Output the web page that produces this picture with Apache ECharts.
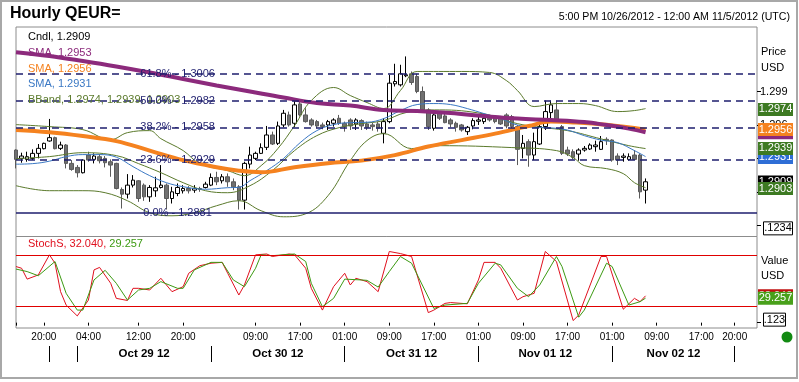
<!DOCTYPE html>
<html><head><meta charset="utf-8">
<script src="https://cdn.jsdelivr.net/npm/echarts@6/dist/echarts.min.js"></script>
<style>html,body{margin:0;padding:0;background:#fff;}#c{width:799px;height:382px;}</style>
</head><body><div id="c"></div>
<script>
// ---------- data ----------
const NSLOTS = 134;
const slots = Array.from({length: NSLOTS}, (_, i) => String(i));
// [open, close, low, high]
const candles = [
[1.29376,1.29292,1.29211,1.29382],[1.29301,1.29322,1.29262,1.29352],[1.29292,1.29316,1.29271,1.29361],[1.29301,1.29346,1.29286,1.29382],
[1.29346,1.29391,1.29301,1.2943],[1.29388,1.29436,1.29382,1.29442],[1.29457,1.29487,1.29451,1.29655],[1.29487,1.29388,1.29382,1.29496],
[1.29391,1.29421,1.29376,1.29451],[1.29421,1.29256,1.29211,1.2943],[1.29256,1.29202,1.2919,1.29286],[1.2922,1.29172,1.2913,1.29241],
[1.29172,1.29286,1.29166,1.29292],[1.29331,1.29286,1.29271,1.29361],[1.29292,1.29322,1.29256,1.29346],[1.29316,1.2928,1.29256,1.2934],
[1.29301,1.29262,1.2922,1.29322],[1.29271,1.29241,1.29136,1.29292],[1.29256,1.29031,1.29022,1.29262],[1.29022,1.2898,1.28851,1.2904],
[1.2898,1.29061,1.28941,1.2916],[1.29061,1.29106,1.2904,1.29151],[1.291,1.28941,1.28911,1.29106],[1.29061,1.28956,1.2892,1.29076],
[1.28956,1.2904,1.28911,1.29061],[1.2901,1.29037,1.28956,1.29136],[1.2904,1.29061,1.29031,1.29241],[1.29061,1.28941,1.28842,1.29076],
[1.28941,1.29001,1.28896,1.29046],[1.28986,1.2904,1.28962,1.29076],[1.2901,1.29031,1.28986,1.29061],[1.29031,1.2901,1.28986,1.29052],
[1.29016,1.29031,1.28992,1.29061],[1.29031,1.29022,1.29001,1.29046],[1.2904,1.2907,1.29031,1.29091],[1.29061,1.2913,1.29052,1.29166],
[1.2913,1.29091,1.29061,1.29181],[1.291,1.29136,1.29076,1.2916],[1.29136,1.29091,1.29046,1.29166],[1.29091,1.29046,1.29016,1.29121],
[1.29046,1.28926,1.28842,1.29061],[1.28926,1.29256,1.28842,1.29271],[1.2925,1.29331,1.29211,1.29406],[1.29301,1.29346,1.29286,1.29361],
[1.29346,1.29397,1.2934,1.29436],[1.294,1.29511,1.29376,1.29592],[1.29511,1.2943,1.29421,1.29541],[1.29436,1.29592,1.29421,1.29631],
[1.29601,1.29706,1.2958,1.29736],[1.29691,1.29601,1.29586,1.29721],[1.29616,1.29781,1.2958,1.29826],[1.2979,1.29691,1.29676,1.29826],
[1.29691,1.29631,1.29622,1.29751],[1.29646,1.29601,1.29586,1.29661],[1.29631,1.29592,1.29571,1.29646],[1.29601,1.29586,1.29562,1.29622],
[1.29601,1.29631,1.29556,1.29646],[1.29616,1.29646,1.29586,1.29661],[1.29661,1.29616,1.29601,1.29691],[1.29616,1.29586,1.29541,1.29631],
[1.29646,1.29592,1.29556,1.29661],[1.2961,1.29646,1.29556,1.29661],[1.2964,1.29592,1.29556,1.29652],[1.2961,1.2958,1.29556,1.29631],
[1.29601,1.29586,1.2955,1.29622],[1.2961,1.29571,1.29541,1.29631],[1.29526,1.29631,1.29436,1.29661],[1.29631,1.29976,1.29616,1.30051],
[1.2997,1.29991,1.29946,1.3015],[1.29961,1.3006,1.29946,1.30141],[1.30042,1.30051,1.3003,1.30216],[1.3006,1.29982,1.29961,1.30081],
[1.30036,1.29901,1.29886,1.3006],[1.29901,1.29736,1.29721,1.29946],[1.29736,1.29586,1.29556,1.29751],[1.29571,1.29691,1.2955,1.29706],
[1.29706,1.29661,1.29646,1.29721],[1.29682,1.29622,1.29616,1.297],[1.29646,1.2961,1.2958,1.29661],[1.29616,1.2958,1.29541,1.29631],
[1.29601,1.29556,1.29541,1.2961],[1.29541,1.2958,1.29511,1.29592],[1.29592,1.2964,1.29562,1.29661],[1.29634,1.29646,1.29601,1.29682],
[1.29631,1.29661,1.2961,1.29691],[1.29661,1.29646,1.29631,1.29691],[1.29661,1.29631,1.29616,1.29676],[1.29661,1.2961,1.29601,1.29682],
[1.29691,1.29592,1.29571,1.29706],[1.29676,1.29586,1.29541,1.29691],[1.29586,1.29382,1.29241,1.29601],[1.29391,1.29436,1.29301,1.29511],
[1.29451,1.29331,1.29226,1.29472],[1.29331,1.29451,1.29286,1.29532],[1.2943,1.29586,1.29421,1.29601],[1.29586,1.29721,1.29556,1.2982],
[1.29712,1.29781,1.29661,1.2982],[1.29736,1.29646,1.29631,1.2982],[1.29586,1.29346,1.29331,1.29601],[1.29376,1.2934,1.29322,1.29406],
[1.29361,1.2931,1.29292,1.29382],[1.2934,1.29376,1.2928,1.29391],[1.29376,1.29391,1.29361,1.29412],[1.29385,1.29421,1.29376,1.29436],
[1.29406,1.29421,1.29361,1.2946],[1.29382,1.29451,1.29376,1.29502],[1.29472,1.2946,1.29421,1.2949],[1.29466,1.29286,1.29271,1.29472],
[1.29322,1.29286,1.29241,1.29346],[1.2931,1.29322,1.29271,1.29346],[1.29292,1.29316,1.2928,1.29346],[1.29331,1.29292,1.29286,1.29376],
[1.29331,1.29001,1.28941,1.29346],[1.29016,1.29091,1.28896,1.29121]
];
const smaPurple = [[0,1.30254],[6,1.3022],[12,1.30175],[18,1.30126],[24,1.30072],[30,1.30013],[36,1.29955],[42,1.29901],[48,1.29847],[54,1.29798],[60,1.29775],[66,1.29735],[72,1.29726],[78,1.29708],[84,1.29681],[90,1.29658],[96,1.29645],[102,1.29627],[106,1.296],[110,1.29568],[113,1.29535]];
const smaOrange = [[0,1.29555],[6,1.29535],[12,1.29501],[18,1.29456],[24,1.29371],[30,1.29285],[36,1.29222],[40,1.29191],[44,1.29177],[50,1.29222],[56,1.29258],[62,1.29281],[68,1.2933],[74,1.29407],[80,1.29465],[86,1.29523],[92,1.29591],[96,1.29631],[100,1.29624],[106,1.29602],[113,1.29559]];
const smaBlue = [[0,1.29249],[3,1.29254],[6,1.29276],[9,1.29317],[12,1.29335],[15,1.29335],[18,1.29312],[21,1.29227],[24,1.29146],[27,1.29083],[30,1.29047],[34,1.29024],[38,1.29038],[40,1.29041],[42,1.29101],[45,1.29191],[48,1.29299],[51,1.29442],[54,1.2955],[57,1.29604],[60,1.29622],[63,1.29625],[66,1.29658],[69,1.2973],[72,1.29784],[75,1.29793],[78,1.29784],[81,1.29748],[84,1.29703],[87,1.29658],[90,1.296],[93,1.2958],[96,1.29575],[99,1.29555],[102,1.29505],[105,1.29465],[108,1.29442],[111,1.29371],[113,1.29317]];
const bbUpper = [[0,1.29604],[6,1.29586],[12,1.29559],[17,1.29469],[20,1.29532],[24,1.2955],[26,1.29478],[30,1.29371],[33,1.29254],[38,1.29191],[41,1.29146],[44,1.29236],[47,1.29389],[50,1.29595],[53,1.2982],[57,1.29937],[60,1.29865],[63,1.29802],[66,1.29748],[69,1.2991],[72,1.30081],[80,1.30081],[85,1.30072],[88,1.3],[90,1.2991],[93,1.29766],[97,1.29793],[101,1.29793],[104,1.29775],[108,1.29721],[111,1.2973],[113,1.29748]];
const bbMiddle = [[0,1.29299],[6,1.29317],[12,1.29352],[18,1.29326],[22,1.29254],[26,1.29173],[30,1.29083],[34,1.29011],[38,1.28993],[42,1.29056],[46,1.29191],[50,1.29371],[54,1.29505],[58,1.29577],[62,1.29613],[66,1.2964],[70,1.29712],[76,1.29736],[84,1.297],[89,1.29625],[93,1.29586],[99,1.2955],[105,1.29476],[110,1.29415],[113,1.29389]];
const bbLower = [[0,1.29056],[6,1.29011],[12,1.29011],[16,1.28993],[20,1.28921],[24,1.28813],[28,1.28786],[32,1.28813],[36,1.28876],[40,1.28921],[44,1.28831],[48,1.28777],[52,1.28804],[56,1.28966],[60,1.29281],[63,1.29461],[66,1.29523],[71,1.29389],[76,1.29415],[89,1.29398],[97,1.29371],[100,1.29308],[102,1.29236],[106,1.29209],[109,1.29164],[111,1.29083],[113,1.29038]];
const stochK = [[0,67],[1,65],[2,52],[4,57],[6,81],[7,71],[8,37],[9,21],[11,8],[13,27],[14,63],[15,66],[17,47],[18,29],[20,26.5],[21,41],[22,41],[24,39],[26,53],[28,37],[30,43],[31,59],[33,68],[35,71],[37,72],[38,59],[40,33],[41,45],[43,81],[45,82],[46,79],[49,82],[50,81],[52,65],[53,41],[55,15],[57,43],[59,59],[60,45],[61,53],[63,49],[65,37],[67,85],[69,82.5],[71,79],[74,12],[75,15],[77,23],[78,24],[81,22.5],[83,51],[84,72],[86,72],[87,65],[90,27],[91,31],[93,35],[95,85],[97,73],[100,2.5],[101,9],[105,79],[106,79],[109,16],[111,29],[112,25],[113,32.04]];
const stochD = [[0,64],[2,61],[4,56],[7,73],[9,35],[11,15],[12,15],[14,51],[16,62.5],[18,47],[20,27],[22,39],[24,41],[26,49],[29,41],[30,41],[32,63],[35,72],[37,72],[39,51],[41,43],[43,65],[44,81],[46,80],[50,82],[52,73],[53,47],[55,19],[57,29],[59,52],[62,51],[63,50.5],[65,42.5],[67,61],[69,79],[71,71],[75,17],[77,21],[81,23],[83,47],[86,71],[87,69],[90,41],[92,31],[94,45],[97,79],[98,67],[101,6.5],[102,15],[106,71],[107,67],[110,21],[112,25],[113,29.257]];
const fibLevels = [1.3006, 1.2982, 1.2958, 1.2929, 1.2881];
const fibNames = ['61.8%', '50.0%', '38.2%', '23.6%', '0.0%'];
const priceTickLabels = [1.290, 1.293, 1.296, 1.299];
const priceTicks = [1.287, 1.290, 1.293, 1.296, 1.299];
const stochLevels = [80, 20];
const timeTickIdx = [5,13,22,30,43,51,59,67,75,83,91,99,107,115,123,129];
const timeTickText = ['20:00','04:00','12:00','20:00','09:00','17:00','01:00','09:00','17:00','01:00','09:00','17:00','01:00','09:00','17:00','20:00'];
const daySepIdx = [6,11,35,59,83,107,129];
const dayLabelIdx = [23,47,71,95,118];
const dayLabelText = ['Oct 29 12','Oct 30 12','Oct 31 12','Nov 01 12','Nov 02 12'];
const lastValues = {cndl:1.2909, smaP:1.2953, smaO:1.2956, smaB:1.2931, bbU:1.2974, bbM:1.2939, bbL:1.2903, k:32.040, d:29.257};

// ---------- chart ----------
const FONT = 'Liberation Sans, Arial, sans-serif';
const C = {purple:'#8c2a7c', orange:'#f5821f', blue:'#3a78c4', olive:'#5b7a2c', navy:'#1e1e6e', red:'#e0101e', green:'#3c9a12'};
const chart = echarts.init(document.getElementById('c'), null, {renderer:'canvas'});
const gridL = 16, gridW = 741;
const option = {
  animation: false,
  backgroundColor: '#ffffff',
  textStyle: {fontFamily: FONT},
  grid: [
    {left: gridL, top: 27, width: gridW, height: 209.5, show: true, borderColor: '#8c8c8c', borderWidth: 1},
    {left: gridL, top: 236.5, width: gridW, height: 91.5, show: true, borderColor: '#8c8c8c', borderWidth: 1}
  ],
  xAxis: [
    {type:'category', gridIndex:0, data:slots, boundaryGap:false, axisLine:{show:false}, axisTick:{show:false}, axisLabel:{show:false}, splitLine:{show:false}},
    {type:'category', gridIndex:1, position:'bottom', data:slots, boundaryGap:false, axisLine:{show:false},
     axisTick:{show:true, length:3, interval:(i)=>timeTickIdx.includes(i)||i===0, lineStyle:{color:'#000'}},
     axisLabel:{show:true, interval:(i)=>timeTickIdx.includes(i), formatter:(v,i)=>{const k=timeTickIdx.indexOf(i);return k>=0?timeTickText[k]:'';}, fontSize:10, color:'#000', margin:4, fontFamily:FONT},
     splitLine:{show:false}},
    {type:'category', gridIndex:1, position:'bottom', data:slots, boundaryGap:false, offset:18, axisLine:{show:false},
     axisTick:{show:true, length:16, interval:(i)=>daySepIdx.includes(i), lineStyle:{color:'#000'}},
     axisLabel:{show:true, interval:(i)=>dayLabelIdx.includes(i), formatter:(v,i)=>{const k=dayLabelIdx.indexOf(i);return k>=0?dayLabelText[k]:'';}, fontSize:11.5, fontWeight:'bold', color:'#000', margin:2, fontFamily:FONT},
     splitLine:{show:false}}
  ],
  yAxis: [
    {type:'value', gridIndex:0, position:'right', min:1.2860, max:1.3048, splitLine:{show:false}, axisLine:{show:false},
     axisTick:{show:true, customValues:priceTicks, length:4, lineStyle:{color:'#000'}},
     axisLabel:{show:true, customValues:priceTickLabels, formatter:(v)=>v.toFixed(3), fontSize:11, color:'#000', margin:3, fontFamily:FONT}},
    {type:'value', gridIndex:1, position:'right', min:-6.4, max:102.9, splitLine:{show:false}, axisLine:{show:false},
     axisTick:{show:true, customValues:[0], length:4, lineStyle:{color:'#000'}},
     axisLabel:{show:false}}
  ],
  series: [
    {type:'candlestick', xAxisIndex:0, yAxisIndex:0, data:candles, barWidth:4, z:2,
     itemStyle:{color:'#ffffff', color0:'#707070', borderColor:'#000000', borderColor0:'#5a5a5a', borderWidth:1}},
    {type:'line', name:'bbU', xAxisIndex:0, yAxisIndex:0, data:bbUpper, smooth:0.4, showSymbol:false, lineStyle:{color:C.olive, width:1}, z:3},
    {type:'line', name:'bbM', xAxisIndex:0, yAxisIndex:0, data:bbMiddle, smooth:0.4, showSymbol:false, lineStyle:{color:C.olive, width:1}, z:3},
    {type:'line', name:'bbL', xAxisIndex:0, yAxisIndex:0, data:bbLower, smooth:0.4, showSymbol:false, lineStyle:{color:C.olive, width:1}, z:3},
    {type:'line', name:'smaB', xAxisIndex:0, yAxisIndex:0, data:smaBlue, smooth:0.4, showSymbol:false, lineStyle:{color:C.blue, width:1}, z:3},
    {type:'line', name:'smaO', xAxisIndex:0, yAxisIndex:0, data:smaOrange, smooth:0.4, showSymbol:false, lineStyle:{color:C.orange, width:4}, z:4},
    {type:'line', name:'smaP', xAxisIndex:0, yAxisIndex:0, data:smaPurple, smooth:0.4, showSymbol:false, lineStyle:{color:C.purple, width:4}, z:4,
     markLine:{symbol:'none', silent:true, z:6, precision:5, label:{show:false},
       data: fibLevels.map((v,k)=>({yAxis:v, lineStyle:{color:C.navy, width:1.5, type: k===fibLevels.length-1 ? 'solid' : [7,5]}}))}},
    {type:'line', name:'K', xAxisIndex:1, yAxisIndex:1, data:stochK, showSymbol:false, lineStyle:{color:C.red, width:1}, z:3,
     markLine:{symbol:'none', silent:true, precision:2, label:{show:false}, data: stochLevels.map(v=>({yAxis:v})), lineStyle:{color:'#e00000', width:1.2, type:'solid'}}},
    {type:'line', name:'D', xAxisIndex:1, yAxisIndex:1, data:stochD, showSymbol:false, lineStyle:{color:C.green, width:1}, z:3}
  ]
};
chart.setOption(option);

const py = v => chart.convertToPixel({yAxisIndex:0}, v);
const sy = v => chart.convertToPixel({yAxisIndex:1}, v);
const px = i => chart.convertToPixel({xAxisIndex:0}, i);

const g = [];
g.push({type:'rect', shape:{x:1, y:1, width:796, height:377}, style:{fill:null, stroke:'#a8a8a8', lineWidth:2}, z:0, silent:true});
g.push({type:'text', x:10, y:14, style:{text:'Hourly QEUR=', font:'bold 16px '+FONT, fill:'#000', verticalAlign:'middle'}, z:10});
g.push({type:'text', x:790, y:17, style:{text:'5:00 PM 10/26/2012 - 12:00 AM 11/5/2012 (UTC)', font:'10.6px '+FONT, fill:'#000', align:'right', verticalAlign:'middle'}, z:10});
const leg = [
  ['Cndl, ' + lastValues.cndl.toFixed(4), '#000', 37],
  ['SMA, ' + lastValues.smaP.toFixed(4), C.purple, 53],
  ['SMA, ' + lastValues.smaO.toFixed(4), C.orange, 69],
  ['SMA, ' + lastValues.smaB.toFixed(4), C.blue, 84],
  ['BBand, ' + lastValues.bbU.toFixed(4) + ', ' + lastValues.bbM.toFixed(4) + ', ' + lastValues.bbL.toFixed(4), C.olive, 100]
];
leg.forEach(([t,c,y]) => g.push({type:'text', x:28, y:y, style:{text:t, font:'11px '+FONT, fill:c, verticalAlign:'middle'}, z:10}));
g.push({type:'text', x:28, y:244, style:{text:'{r|StochS, ' + lastValues.k.toFixed(3) + ', }{g|' + lastValues.d.toFixed(3) + '}', verticalAlign:'middle',
  rich:{r:{fill:C.red, font:'11px '+FONT}, g:{fill:C.green, font:'11px '+FONT}}}, z:10});
fibLevels.forEach((v,k) => g.push({type:'text', x:px(29), y:py(v), style:{text:fibNames[k] + ' - ' + v.toFixed(4), font:'11px '+FONT, fill:C.navy, align:'center', verticalAlign:'middle'}, z:10}));
[['Price',52],['USD',68]].forEach(([t,y]) => g.push({type:'text', x:761, y:y, style:{text:t, font:'11px '+FONT, fill:'#000', verticalAlign:'middle'}, z:10}));
[['Value',261],['USD',276]].forEach(([t,y]) => g.push({type:'text', x:761, y:y, style:{text:t, font:'11px '+FONT, fill:'#000', verticalAlign:'middle'}, z:10}));
function box(yc, text, bg, fg, z) {
  g.push({type:'rect', shape:{x:758, y:yc-6.5, width:35, height:13}, style:{fill:bg}, z:z});
  g.push({type:'text', x:775.5, y:yc, style:{text:text, font:'11px '+FONT, fill:fg, align:'center', verticalAlign:'middle'}, z:z});
}
box(py(lastValues.bbU), lastValues.bbU.toFixed(4), '#3d7a22', '#fff', 20);
box(py(lastValues.smaP), lastValues.smaP.toFixed(4), C.purple, '#fff', 20);
box(py(lastValues.smaO), lastValues.smaO.toFixed(4), '#f5821f', '#fff', 21);
box(py(lastValues.smaB), lastValues.smaB.toFixed(4), '#2e6ed6', '#fff', 20);
box(py(lastValues.bbM), lastValues.bbM.toFixed(4), '#3d7a22', '#fff', 21);
box(py(lastValues.cndl), lastValues.cndl.toFixed(4), '#000', '#fff', 20);
box(py(lastValues.bbL), lastValues.bbL.toFixed(4), '#3d7a22', '#fff', 21);
box(sy(lastValues.k), lastValues.k.toFixed(3), '#c01010', '#fff', 20);
box(sy(lastValues.d), lastValues.d.toFixed(3), '#48a01a', '#fff', 21);
g.push({type:'rect', shape:{x:763.5, y:py(1.287)-3.5, width:29, height:13}, style:{fill:'#fff', stroke:'#000', lineWidth:1}, z:20});
g.push({type:'text', x:778, y:py(1.287)+3, style:{text:'.1234', font:'11px '+FONT, fill:'#000', align:'center', verticalAlign:'middle'}, z:21});
g.push({type:'rect', shape:{x:763.5, y:sy(0)-9.5, width:22, height:13}, style:{fill:'#fff', stroke:'#000', lineWidth:1}, z:20});
g.push({type:'text', x:774.5, y:sy(0)-3, style:{text:'.123', font:'11px '+FONT, fill:'#000', align:'center', verticalAlign:'middle'}, z:21});
g.push({type:'circle', shape:{cx:787, cy:337, r:5.5}, style:{fill:'#128a12'}, z:10});
chart.setOption({graphic: g});
</script></body></html>
